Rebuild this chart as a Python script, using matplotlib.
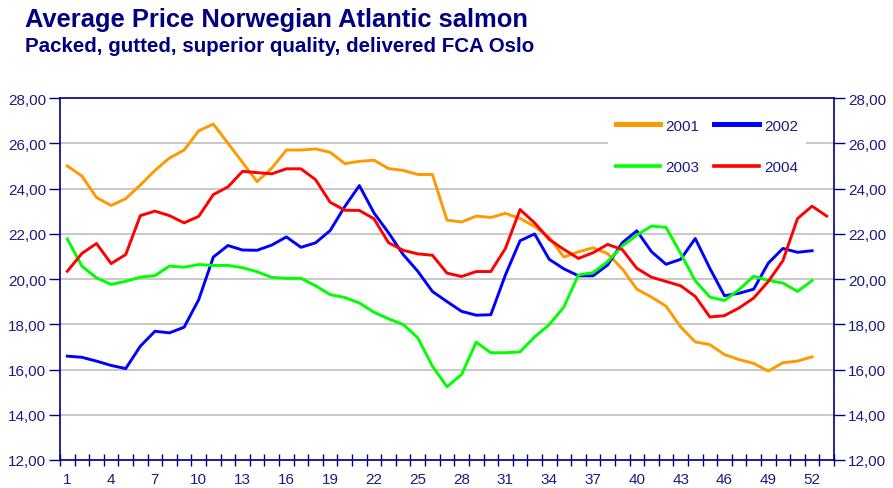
import matplotlib
matplotlib.use("Agg")
import matplotlib.pyplot as plt
from matplotlib.ticker import FixedLocator, FuncFormatter

plt.rcParams['font.family'] = ['Liberation Sans', 'DejaVu Sans']

weeks_label = [1, 4, 7, 10, 13, 16, 19, 22, 25, 28, 31, 34, 37, 40, 43, 46, 49, 52]
y_ticks = [12, 14, 16, 18, 20, 22, 24, 26, 28]

s2001 = [25.0, 24.55, 23.6, 23.25, 23.55, 24.15, 24.8, 25.35, 25.7, 26.55,
         26.85, 26.0, 25.15, 24.3, 24.9, 25.7, 25.7, 25.75, 25.6, 25.1,
         25.2, 25.25, 24.88, 24.8, 24.62, 24.62, 22.6, 22.52, 22.78, 22.72,
         22.9, 22.68, 22.32, 21.85, 20.97, 21.2, 21.38, 21.12, 20.45, 19.55,
         19.2, 18.8, 17.88, 17.22, 17.1, 16.66, 16.44, 16.27, 15.93, 16.3,
         16.37, 16.56]
s2002 = [16.59, 16.54, 16.37, 16.18, 16.04, 17.03, 17.69, 17.62, 17.87, 19.09,
         20.97, 21.48, 21.28, 21.27, 21.5, 21.86, 21.4, 21.6, 22.14, 23.2,
         24.13, 22.92, 22.04, 21.08, 20.34, 19.45, 19.0, 18.57, 18.4, 18.42,
         20.18, 21.69, 21.99, 20.87, 20.45, 20.14, 20.14, 20.62, 21.6, 22.13,
         21.21, 20.65, 20.87, 21.79, 20.47, 19.26, 19.37, 19.55, 20.7, 21.35,
         21.18, 21.25]
s2003 = [21.77, 20.57, 20.05, 19.76, 19.9, 20.08, 20.15, 20.57, 20.52, 20.64,
         20.6, 20.6, 20.5, 20.32, 20.07, 20.03, 20.03, 19.7, 19.31, 19.18,
         18.94, 18.53, 18.24, 17.99, 17.4, 16.15, 15.24, 15.78, 17.21, 16.74,
         16.74, 16.78, 17.44, 17.98, 18.76, 20.18, 20.28, 20.77, 21.45, 21.94,
         22.34, 22.28, 21.13, 19.92, 19.2, 19.05, 19.53, 20.12, 19.94, 19.82,
         19.45, 19.93]
s2004 = [20.34, 21.13, 21.57, 20.68, 21.08, 22.8, 23.0, 22.8, 22.48, 22.77,
         23.73, 24.07, 24.76, 24.7, 24.65, 24.87, 24.87, 24.39, 23.39, 23.04,
         23.03, 22.66, 21.6, 21.27, 21.11, 21.05, 20.26, 20.11, 20.33, 20.33,
         21.35, 23.07, 22.48, 21.75, 21.31, 20.91, 21.16, 21.53, 21.3, 20.47,
         20.08, 19.89, 19.7, 19.23, 18.32, 18.38, 18.72, 19.16, 19.89, 20.81,
         22.67, 23.22, 22.78]

navy = '#000080'
tick_col = '#1c1c80'

fig = plt.figure(figsize=(8.93, 4.89), dpi=100)
ax = fig.add_axes([60/893, 1-461/489, (834-60)/893, (461-99)/489])

series = [("2001", s2001, '#FF9900'), ("2002", s2002, '#0000FF'),
          ("2003", s2003, '#00FF00'), ("2004", s2004, '#FF0000')]
lines = {}
for name, vals, col in series:
    x = list(range(1, len(vals) + 1))
    ln, = ax.plot(x, vals, color=col, lw=2.1, label=name, solid_joinstyle='round', zorder=3)
    lines[name] = ln

ax.set_xlim(0.5, 53.5)
ax.set_ylim(12, 28)
ax.set_yticks(y_ticks)
ax.yaxis.set_major_formatter(FuncFormatter(lambda v, p: f"{v:.2f}".replace('.', ',')))
ax.grid(axis='y', color='#c4c4c4', lw=1.3, zorder=0)
ax.set_axisbelow(True)

ax.xaxis.set_major_locator(FixedLocator(weeks_label))
ax.xaxis.set_minor_locator(FixedLocator([i + 0.5 for i in range(0, 54)]))
ax.tick_params(axis='x', which='major', length=0, labelsize=11, colors=tick_col, pad=9)
ax.tick_params(axis='x', which='minor', length=8, direction='inout', color=navy, width=1)
ax.tick_params(axis='y', which='major', length=8, direction='out', color=navy, width=1,
               labelsize=11, labelcolor=tick_col, right=True, labelright=True, pad=2)

for sp in ax.spines.values():
    sp.set_color(navy)
    sp.set_linewidth(1.2)

handles = [lines["2001"], lines["2003"], lines["2002"], lines["2004"]]
leg = ax.legend(handles, [h.get_label() for h in handles], ncol=2, loc='upper left',
                bbox_to_anchor=(0.698, 0.985), frameon=True, fancybox=False,
                edgecolor='none', facecolor='white', framealpha=1,
                fontsize=11, labelspacing=1.8, columnspacing=1.0,
                handlelength=2.9, handletextpad=0.35, borderpad=0.5,
                labelcolor=tick_col)
for lh in leg.get_lines():
    lh.set_linewidth(2.6)
leg.get_lines()[0].set_linewidth(3.6)
leg.get_lines()[2].set_linewidth(3.6)

fig.text(25/893, 1-20/489, "Average Price Norwegian Atlantic salmon", fontsize=18.4,
         fontweight='bold', color=navy, va='center', ha='left')
fig.text(25/893, 1-47/489, "Packed, gutted, superior quality, delivered FCA Oslo", fontsize=14.8,
         fontweight='bold', color=navy, va='center', ha='left')

fig.savefig("out.png", dpi=100)
